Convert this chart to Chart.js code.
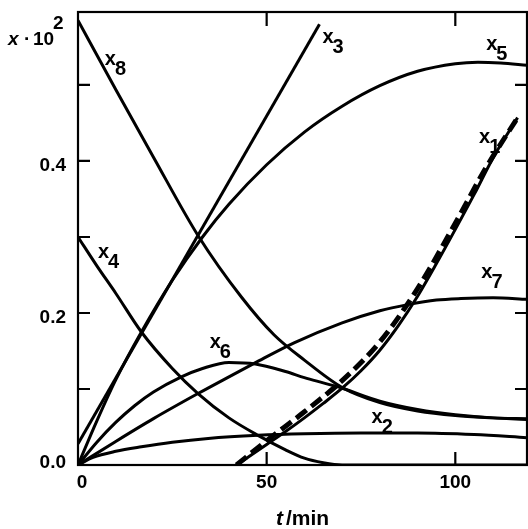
<!DOCTYPE html>
<html>
<head>
<meta charset="utf-8">
<script src="https://cdn.jsdelivr.net/npm/chart.js@4.4.1/dist/chart.umd.min.js"></script>
<style>
    html, body { margin: 0; padding: 0; background: #fff; }
    #wrap { width: 528px; height: 529px; }
</style>
</head>
<body>
<div id="wrap"><canvas id="c"></canvas></div>
<script>
/* ── data: x·10² vs t/min ── */

const t1 = [42, 50, 55, 60, 65, 70, 75, 80, 85, 90, 95, 100, 105, 110, 116.5];
const x1 = [0.0, 0.027, 0.044, 0.062, 0.081, 0.101, 0.124, 0.151, 0.184, 0.222, 0.265, 0.310, 0.356, 0.404, 0.457];

// dashed curve lying on x1
const tD = [42, 50, 60, 70, 80, 90, 100, 108, 116.5];
const xD = [0.0, 0.032, 0.070, 0.111, 0.162, 0.232, 0.318, 0.390, 0.457];

const t2 = [0, 4, 10, 16.8, 25, 34.5, 47.7, 60, 75, 90, 105, 119];
const x2 = [0, 0.010, 0.018, 0.024, 0.030, 0.035, 0.039, 0.041, 0.042, 0.042, 0.040, 0.036];

const t3 = [0, 64];
const x3 = [0.028, 0.580];

const t4 = [0, 5, 10, 16.8, 25, 31.8, 40, 47.7, 55, 60, 65, 70, 119];
const x4 = [0.300, 0.262, 0.226, 0.175, 0.127, 0.094, 0.062, 0.039, 0.020, 0.009, 0.003, 0, 0];

const t5 = [0, 5, 10, 16.8, 25, 33, 40, 50, 60, 70, 80, 90, 100, 106, 112, 119];
const x5 = [0, 0.058, 0.112, 0.175, 0.243, 0.300, 0.343, 0.395, 0.438, 0.472, 0.499, 0.518, 0.528, 0.530, 0.529, 0.526];

const t6 = [0, 5, 10, 15, 20, 27.4, 33, 40, 47, 55, 60, 65, 70, 80, 90, 100, 110, 119];
const x6 = [0, 0.030, 0.056, 0.078, 0.096, 0.116, 0.127, 0.135, 0.133, 0.123, 0.115, 0.108, 0.101, 0.084, 0.073, 0.066, 0.062, 0.061];

const t7 = [0, 10, 20, 31.8, 40, 46.8, 57.4, 70, 80, 87.4, 95, 101.5, 110, 119];
const x7 = [0, 0.031, 0.061, 0.094, 0.116, 0.134, 0.161, 0.187, 0.203, 0.211, 0.217, 0.219, 0.220, 0.218];

const t8 = [0, 10, 20, 31.8, 43.3, 52, 60, 70, 80, 90, 100, 110, 119];
const x8 = [0.585, 0.494, 0.405, 0.302, 0.221, 0.171, 0.138, 0.102, 0.082, 0.071, 0.065, 0.062, 0.060];

// axis ticks
const xLabels = [0, 50, 100];
const xMarks = [50, 100];
const yLabels = [0.0, 0.2, 0.4];
const yMarks = [0.1, 0.2, 0.3, 0.4, 0.5];

// curve names: [subscript, t, y] (left/baseline of the "x")
const curveNames = [
    ['1', 106.3, 0.424],
    ['2', 77.8, 0.055],
    ['3', 64.8, 0.555],
    ['4', 5.3, 0.272],
    ['5', 108.2, 0.546],
    ['6', 34.9, 0.154],
    ['7', 106.9, 0.246],
    ['8', 7.1, 0.526],
];

const pts = (ts, vs) => ts.map((t, i) => ({ x: t, y: vs[i] }));

const FONT = '"Liberation Sans", Arial, sans-serif';

const frame = {
    id: 'frame',
    afterDatasetsDraw(chart) {
        const { ctx, chartArea: a, scales: { x, y } } = chart;
        ctx.save();
        ctx.strokeStyle = '#000';
        ctx.fillStyle = '#000';
        ctx.lineWidth = 2.2;
        ctx.strokeRect(a.left, a.top, a.right - a.left, a.bottom - a.top);

        // inward tick marks on all four sides
        ctx.beginPath();
        yMarks.forEach(v => {
            const py = y.getPixelForValue(v);
            ctx.moveTo(a.left, py); ctx.lineTo(a.left + 12, py);
            ctx.moveTo(a.right, py); ctx.lineTo(a.right - 12, py);
        });
        xMarks.forEach(v => {
            const px = x.getPixelForValue(v);
            ctx.moveTo(px, a.bottom); ctx.lineTo(px, a.bottom - 13);
            ctx.moveTo(px, a.top); ctx.lineTo(px, a.top + 14);
        });
        ctx.stroke();

        // tick labels
        ctx.font = 'bold 19px ' + FONT;
        ctx.textAlign = 'right';
        ctx.textBaseline = 'alphabetic';
        yLabels.forEach(v => {
            const py = y.getPixelForValue(v);
            ctx.fillText(v.toFixed(1), a.left - 12, Math.min(py + 10, a.bottom + 3));
        });
        ctx.textAlign = 'center';
        xLabels.forEach(v => {
            const px = x.getPixelForValue(v) + (v === 0 ? 4 : 0);
            ctx.fillText(String(v), px, a.bottom + 23);
        });

        // axis titles
        ctx.textAlign = 'left';
        ctx.font = 'italic bold 19px ' + FONT;
        ctx.fillText('x', 8, 45);
        ctx.font = 'bold 19px ' + FONT;
        ctx.fillText('\u00b7', 24, 45);
        ctx.fillText('10', 33, 45);
        ctx.fillText('2', 53, 29);

        const cx = (a.left + a.right) / 2;
        ctx.font = 'italic bold 21px ' + FONT;
        const wt = ctx.measureText('t').width;
        ctx.font = 'bold 21px ' + FONT;
        const wr = ctx.measureText('/min').width;
        const x0 = cx - (wt + wr + 3) / 2;
        ctx.font = 'italic bold 21px ' + FONT;
        ctx.fillText('t', x0, 525);
        ctx.font = 'bold 21px ' + FONT;
        ctx.fillText('/min', x0 + wt + 3, 525);

        // curve names x1..x8
        ctx.font = 'bold 20px ' + FONT;
        const wx = ctx.measureText('x').width;
        curveNames.forEach(([sub, t, v]) => {
            const px = x.getPixelForValue(t);
            const py = y.getPixelForValue(v);
            ctx.fillText('x', px, py);
            ctx.fillText(sub, px + wx - 1, py + 10);
        });
        ctx.restore();
    },
};

const solid = (ts, vs) => ({
    data: pts(ts, vs),
    borderColor: '#000',
    borderWidth: 3,
});

new Chart(document.getElementById('c'), {
    type: 'line',
    data: {
        datasets: [
            solid(t1, x1),
            solid(t2, x2),
            solid(t3, x3),
            solid(t4, x4),
            solid(t5, x5),
            solid(t6, x6),
            solid(t7, x7),
            solid(t8, x8),
            {
                data: pts(tD, xD),
                borderColor: '#000',
                borderWidth: 5,
                borderDash: [13, 6],
            },
        ],
    },
    options: {
        responsive: true,
        maintainAspectRatio: false,
        animation: false,
        layout: { padding: { top: 12, right: 1, left: 0, bottom: 0 } },
        elements: {
            point: { radius: 0 },
            line: { cubicInterpolationMode: 'monotone', fill: false },
        },
        plugins: {
            legend: { display: false },
            tooltip: { enabled: false },
        },
        scales: {
            x: {
                type: 'linear',
                min: 0,
                max: 119,
                grid: { display: false },
                border: { display: false },
                ticks: { display: false },
                afterFit: s => { s.height = 64; },
            },
            y: {
                min: 0,
                max: 0.596,
                grid: { display: false },
                border: { display: false },
                ticks: { display: false },
                afterFit: s => { s.width = 78; },
            },
        },
    },
    plugins: [frame],
});
</script>
</body>
</html>
